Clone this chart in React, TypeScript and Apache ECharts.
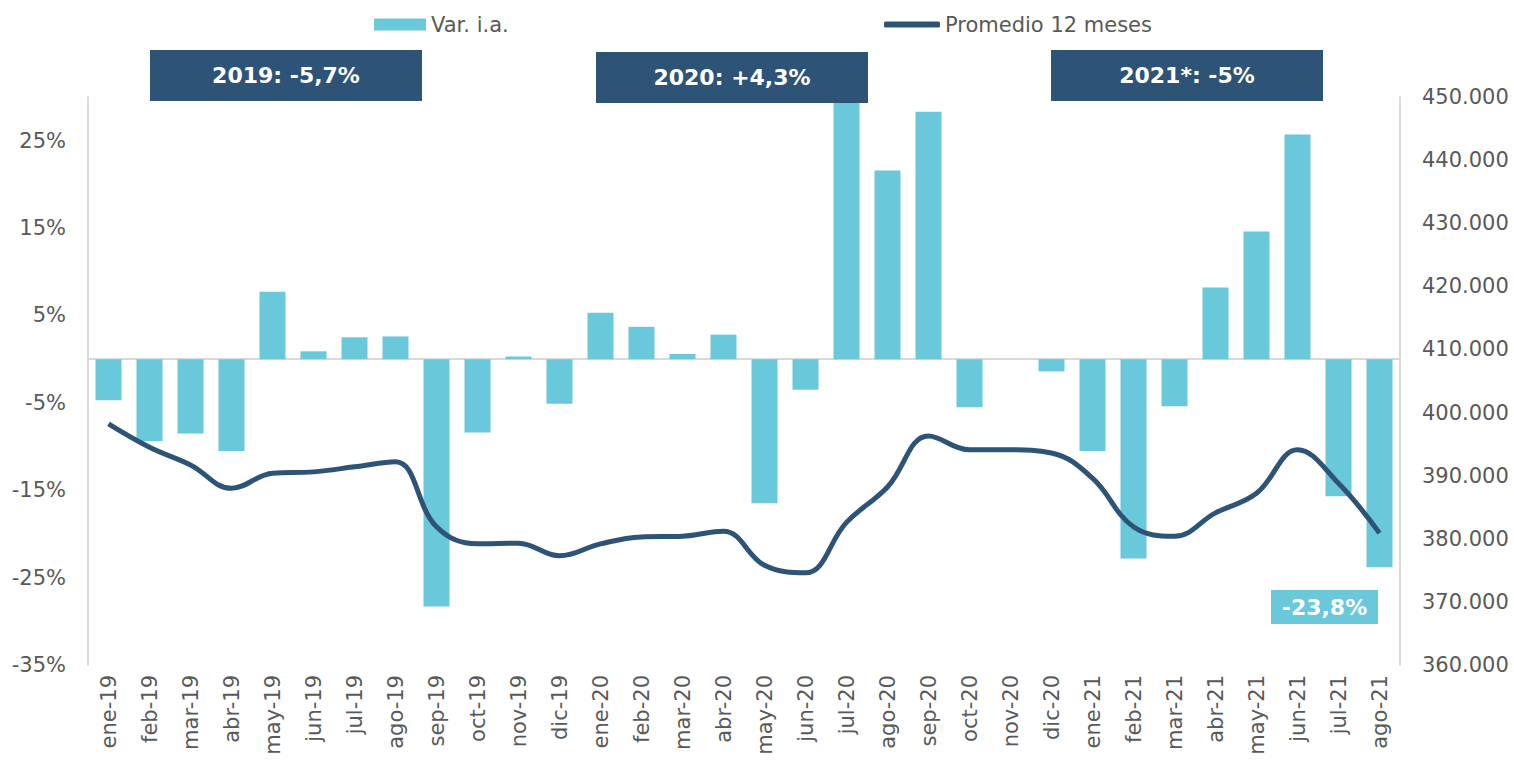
import React, { useEffect, useRef } from 'react';
import * as echarts from 'echarts';

const categories = [
  'ene-19', 'feb-19', 'mar-19', 'abr-19', 'may-19', 'jun-19', 'jul-19', 'ago-19', 'sep-19', 'oct-19', 'nov-19', 'dic-19',
  'ene-20', 'feb-20', 'mar-20', 'abr-20', 'may-20', 'jun-20', 'jul-20', 'ago-20', 'sep-20', 'oct-20', 'nov-20', 'dic-20',
  'ene-21', 'feb-21', 'mar-21', 'abr-21', 'may-21', 'jun-21', 'jul-21', 'ago-21',
];

// Var. i.a. (%)
const varIA = [
  -4.7, -9.4, -8.5, -10.5, 7.7, 0.9, 2.5, 2.6, -28.3, -8.4, 0.3, -5.1,
  5.3, 3.7, 0.6, 2.8, -16.5, -3.5, 34, 21.6, 28.3, -5.5, 0, -1.4,
  -10.5, -22.8, -5.4, 8.2, 14.6, 25.7, -15.7, -23.8,
];

// Promedio 12 meses
const promedio12 = [
  398200, 394500, 391700, 388000, 390400, 390600, 391400, 392200, 381900, 379200, 379300, 377300,
  379200, 380300, 380400, 381200, 375800, 374600, 382600, 388200, 396300, 394100, 394100, 393600,
  389600, 381900, 380400, 384100, 387200, 394100, 388800, 380900,
];

const seriesNames = ['Var. i.a.', 'Promedio 12 meses'];
const bannerTexts = ['2019: -5,7%', '2020: +4,3%', '2021*: -5%'];
const lastValueLabel = '-23,8%';

const NAVY = '#2D5477';
const CYAN = '#69C8DA';
const GRAY = '#595959';
const FONT = 'DejaVu Sans';

export default function App() {
  const ref = useRef<HTMLDivElement>(null);

  useEffect(() => {
    const chart = echarts.init(ref.current!, null, { renderer: 'svg' });

    const banners = [
      { x: 150, y: 50 },
      { x: 596, y: 52 },
      { x: 1051, y: 50 },
    ];
    const graphics: any[] = [];
    bannerTexts.forEach((t, i) => {
      const b = banners[i];
      graphics.push({
        type: 'rect',
        z: 100,
        shape: { x: b.x, y: b.y, width: 272, height: 51 },
        style: { fill: NAVY },
      });
      graphics.push({
        type: 'text',
        z: 101,
        x: b.x + 136,
        y: b.y + 25.5,
        style: {
          text: t,
          fill: '#FFFFFF',
          fontSize: 22,
          fontWeight: 'bold',
          fontFamily: FONT,
          align: 'center',
          verticalAlign: 'middle',
        },
      });
    });
    graphics.push({
      type: 'rect',
      z: 100,
      shape: { x: 1271, y: 590, width: 107, height: 34 },
      style: { fill: CYAN },
    });
    graphics.push({
      type: 'text',
      z: 101,
      x: 1324.5,
      y: 607,
      style: {
        text: lastValueLabel,
        fill: '#FFFFFF',
        fontSize: 22,
        fontWeight: 'bold',
        fontFamily: FONT,
        align: 'center',
        verticalAlign: 'middle',
      },
    });

    chart.setOption({
      animation: false,
      backgroundColor: '#FFFFFF',
      textStyle: { fontFamily: FONT },
      grid: { left: 88, right: 114, top: 97, bottom: 97, containLabel: false },
      legend: [
        {
          left: 374,
          top: 14,
          padding: 0,
          itemWidth: 52,
          itemHeight: 12,
          textStyle: { fontSize: 21, color: GRAY, fontFamily: FONT },
          data: [{ name: seriesNames[0], icon: 'rect' }],
        },
        {
          left: 884,
          top: 14,
          padding: 0,
          itemWidth: 56,
          itemHeight: 6,
          textStyle: { fontSize: 21, color: GRAY, fontFamily: FONT },
          data: [{ name: seriesNames[1], icon: 'roundRect', itemStyle: { color: NAVY } }],
        },
      ],
      xAxis: {
        type: 'category',
        data: categories,
        axisLine: { show: false, onZero: false },
        axisTick: { show: false },
        axisLabel: {
          rotate: 90,
          interval: 0,
          fontSize: 21,
          color: GRAY,
          fontFamily: FONT,
          margin: 10,
        },
      },
      yAxis: [
        {
          type: 'value',
          min: -35,
          max: 30,
          interval: 10,
          splitLine: { show: false },
          axisTick: { show: false },
          axisLine: { show: true, lineStyle: { color: '#D9D9D9', width: 2 } },
          axisLabel: {
            fontSize: 21,
            color: GRAY,
            fontFamily: FONT,
            margin: 22,
            formatter: (v: number) => (v > 25 ? '' : `${v}%`),
          },
        },
        {
          type: 'value',
          min: 360000,
          max: 450000,
          interval: 10000,
          splitLine: { show: false },
          axisTick: { show: false },
          axisLine: { show: true, lineStyle: { color: '#D9D9D9', width: 2 } },
          axisLabel: {
            fontSize: 21,
            color: GRAY,
            fontFamily: FONT,
            margin: 22,
            formatter: (v: number) => {
              const th = Math.floor(v / 1000);
              return `${th}.${String(v % 1000).padStart(3, '0')}`;
            },
          },
        },
      ],
      series: [
        {
          name: seriesNames[0],
          type: 'bar',
          data: varIA,
          yAxisIndex: 0,
          barWidth: 26,
          clip: true,
          itemStyle: { color: CYAN },
          markLine: {
            silent: true,
            symbol: 'none',
            label: { show: false },
            lineStyle: { color: '#D9D9D9', width: 2, type: 'solid' },
            data: [{ yAxis: 0 }],
            z: 1,
          },
        },
        {
          name: seriesNames[1],
          type: 'line',
          data: promedio12,
          yAxisIndex: 1,
          smooth: 0.4,
          symbol: 'none',
          lineStyle: { color: NAVY, width: 5 },
          itemStyle: { color: NAVY },
          z: 5,
        },
      ],
      graphic: graphics,
    });

    return () => chart.dispose();
  }, []);

  return (
    <div
      ref={ref}
      style={{ position: 'absolute', left: 0, top: 0, width: 1514, height: 762 }}
    />
  );
}
